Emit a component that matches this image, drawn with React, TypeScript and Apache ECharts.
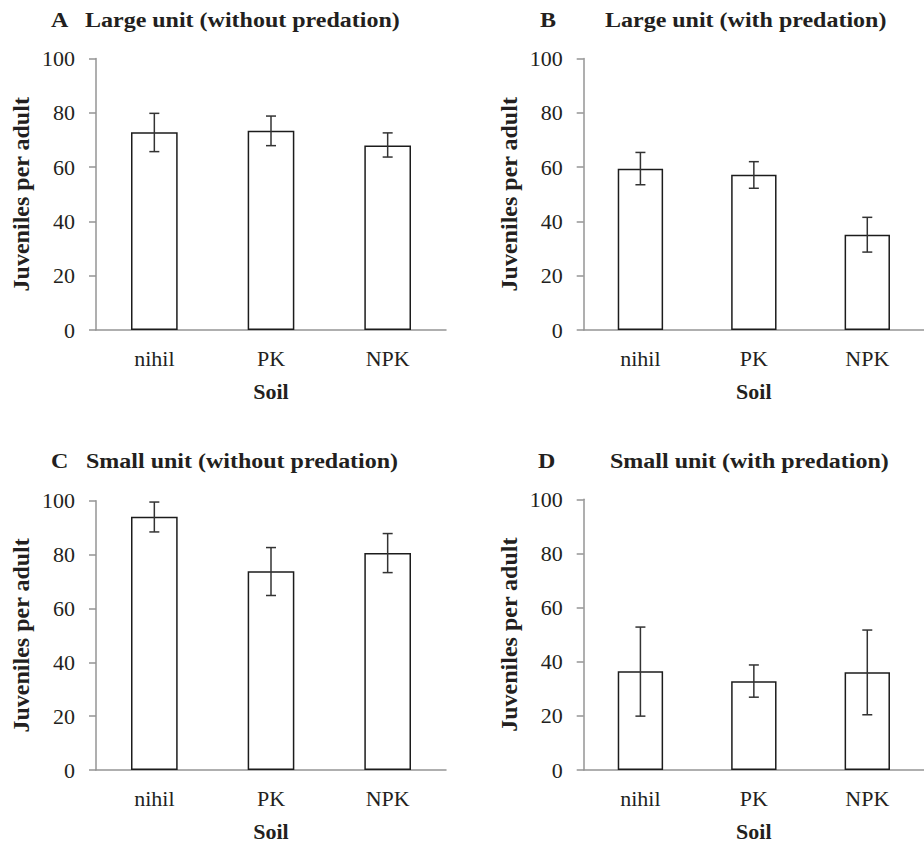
import React, { useEffect, useRef } from "react";
import * as echarts from "echarts";

const categories = ["nihil", "PK", "NPK"];
const yTicks = [0, 20, 40, 60, 80, 100];

const meanA = [72.8, 73.4, 68.0];
const lowA = [65.7, 67.9, 63.7];
const highA = [79.8, 78.8, 72.6];

const meanB = [59.4, 57.2, 35.1];
const lowB = [53.5, 52.2, 28.7];
const highB = [65.4, 62.0, 41.5];

const meanC = [94.0, 73.8, 80.6];
const lowC = [88.4, 64.8, 73.3];
const highC = [99.5, 82.6, 87.8];

const meanD = [36.5, 32.8, 36.1];
const lowD = [19.9, 26.9, 20.4];
const highD = [52.8, 38.8, 51.7];

const panelLetters = ["A", "B", "C", "D"];
const panelTitles = [
  "Large unit (without predation)",
  "Large unit (with predation)",
  "Small unit (without predation)",
  "Small unit (with predation)",
];
const yAxisName = "Juveniles per adult";
const xAxisName = "Soil";

const FONT = "Liberation Serif";
const TEXT = "#231f20";
const AXIS = "#959595";

const grids = [
  { left: 96, top: 58.5, width: 350, height: 271.5 },
  { left: 583.7, top: 58.5, width: 350, height: 271.5 },
  { left: 96, top: 500.7, width: 350, height: 270.6 },
  { left: 583.7, top: 499.3, width: 350, height: 270.7 },
];

const titlePos = [
  { lx: 51, tx: 85, y: 20 },
  { lx: 540, tx: 605, y: 20 },
  { lx: 51, tx: 86, y: 461.5 },
  { lx: 538, tx: 610, y: 461 },
];

export default function App() {
  const ref = useRef<HTMLDivElement>(null);
  useEffect(() => {
    if (!ref.current) return;
    const chart = echarts.init(ref.current, undefined, { renderer: "svg" });
    const means = [meanA, meanB, meanC, meanD];
    const lows = [lowA, lowB, lowC, lowD];
    const highs = [highA, highB, highC, highD];

    const xAxes = grids.map((_, i) => ({
      type: "category",
      gridIndex: i,
      data: categories,
      axisLine: { lineStyle: { color: AXIS, width: 1.5 } },
      axisTick: { show: false },
      axisLabel: { fontFamily: FONT, fontSize: 22, color: TEXT, margin: 17 },
      name: xAxisName,
      nameLocation: "middle",
      nameGap: 50,
      nameTextStyle: { fontFamily: FONT, fontSize: 22, fontWeight: "bold", color: TEXT },
    }));
    const yAxes = grids.map((_, i) => ({
      type: "value",
      gridIndex: i,
      min: yTicks[0],
      max: yTicks[yTicks.length - 1],
      interval: 20,
      splitLine: { show: false },
      axisLine: { show: true, lineStyle: { color: AXIS, width: 1.5 } },
      axisTick: { show: true, length: 7, lineStyle: { color: AXIS, width: 1.5 } },
      axisLabel: { fontFamily: FONT, fontSize: 22, color: TEXT, margin: 21 },
      name: yAxisName,
      nameLocation: "middle",
      nameGap: 63,
      nameTextStyle: { fontFamily: FONT, fontSize: 24, fontWeight: "bold", color: TEXT },
    }));

    const series: any[] = [];
    grids.forEach((_, i) => {
      series.push({
        type: "bar",
        xAxisIndex: i,
        yAxisIndex: i,
        data: means[i],
        barWidth: "40%",
        itemStyle: { color: "#ffffff", borderColor: "#1c1c1c", borderWidth: 1.5 },
        z: 2,
      });
      series.push({
        type: "custom",
        xAxisIndex: i,
        yAxisIndex: i,
        z: 5,
        data: categories.map((_, k) => [k, lows[i][k], highs[i][k]]),
        renderItem: (params: any, api: any) => {
          const x = api.value(0);
          const lo = api.coord([x, api.value(1)]);
          const hi = api.coord([x, api.value(2)]);
          const hw = 5;
          const style = { stroke: "#333333", lineWidth: 1.5 };
          return {
            type: "group",
            children: [
              { type: "line", shape: { x1: lo[0], y1: lo[1], x2: hi[0], y2: hi[1] }, style },
              { type: "line", shape: { x1: lo[0] - hw, y1: lo[1], x2: lo[0] + hw, y2: lo[1] }, style },
              { type: "line", shape: { x1: hi[0] - hw, y1: hi[1], x2: hi[0] + hw, y2: hi[1] }, style },
            ],
          };
        },
      });
    });

    const graphics: any[] = [];
    titlePos.forEach((p, i) => {
      graphics.push({
        type: "text",
        x: p.lx,
        y: p.y,
        scaleX: 1.2,
        style: {
          text: panelLetters[i],
          fontFamily: FONT,
          fontSize: 20,
          fontWeight: "bold",
          fill: TEXT,
          verticalAlign: "middle",
          align: "left",
        },
      });
      graphics.push({
        type: "text",
        x: p.tx,
        y: p.y,
        scaleX: 1.2,
        style: {
          text: panelTitles[i],
          fontFamily: FONT,
          fontSize: 20,
          fontWeight: "bold",
          fill: TEXT,
          verticalAlign: "middle",
          align: "left",
        },
      });
    });

    chart.setOption({
      animation: false,
      backgroundColor: "#ffffff",
      grid: grids.map((g) => ({ ...g, containLabel: false })),
      xAxis: xAxes,
      yAxis: yAxes,
      series,
      graphic: graphics,
    });
    return () => chart.dispose();
  }, []);
  return (
    <div
      ref={ref}
      style={{ position: "fixed", left: 0, top: 0, width: 924, height: 843, overflow: "hidden" }}
    />
  );
}
